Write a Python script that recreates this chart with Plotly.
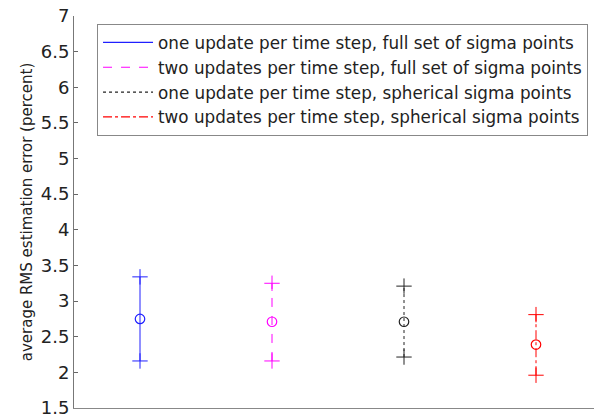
import plotly.graph_objects as go

names = [
    "one update per time step, full set of sigma points",
    "two updates per time step, full set of sigma points",
    "one update per time step, spherical sigma points",
    "two updates per time step, spherical sigma points",
]
xpos = [1, 2, 3, 4]
means = [2.75, 2.71, 2.71, 2.39]
uppers = [3.34, 3.25, 3.21, 2.81]
lowers = [2.16, 2.16, 2.215, 1.96]
colors = ["#2020ff", "#ff00ff", "#222222", "#ff0000"]
dashes = ["solid", "dash", "dot", "dashdot"]

yticks = [1.5, 2, 2.5, 3, 3.5, 4, 4.5, 5, 5.5, 6, 6.5, 7]

fig = go.Figure()
for i in range(4):
    fig.add_trace(go.Scatter(
        x=[xpos[i], xpos[i]], y=[lowers[i], uppers[i]], mode="lines",
        line=dict(color=colors[i], width=1, dash=dashes[i]),
        showlegend=False, hoverinfo="skip"))
    fig.add_trace(go.Scatter(
        x=[xpos[i], xpos[i]], y=[lowers[i], uppers[i]], mode="markers",
        marker=dict(symbol="cross-thin-open", size=11, color=colors[i],
                    line=dict(color=colors[i], width=1)),
        showlegend=False))
    fig.add_trace(go.Scatter(
        x=[xpos[i]], y=[means[i]], mode="markers",
        marker=dict(symbol="circle-open", size=9.5, color=colors[i],
                    line=dict(color=colors[i], width=1.2)),
        showlegend=False))
for i in range(4):
    fig.add_trace(go.Scatter(
        x=[None], y=[None], mode="lines", name=names[i],
        line=dict(color=colors[i], width=1.2, dash=dashes[i]),
        showlegend=True))

# the page body has an 8px margin, so the figure is sized to fit the window
fig.update_layout(
    width=594, height=411,
    margin=dict(l=66, r=0, t=8, b=11),
    paper_bgcolor="white", plot_bgcolor="white",
    font=dict(family="DejaVu Sans, sans-serif", size=16, color="#222222"),
    showlegend=True,
    legend=dict(x=0.0436, y=0.9796, xanchor="left", yanchor="top",
                bordercolor="#888888", borderwidth=1, bgcolor="white",
                font=dict(size=16.8), tracegroupgap=0, itemwidth=50),
    xaxis=dict(range=[0.5, 4.5], showgrid=False, zeroline=False,
               showticklabels=False, ticks="", showline=True,
               linecolor="#888888", linewidth=1, automargin=False),
    yaxis=dict(range=[1.5, 7], tickvals=yticks,
               ticktext=[("%g" % v) for v in yticks],
               showgrid=False, zeroline=False, ticks="inside", ticklen=4,
               tickcolor="#666666", showline=True, linecolor="#777777",
               linewidth=1, tickfont=dict(size=18), automargin=False,
               ticklabeloverflow="allow",
               title=dict(text="average RMS estimation error (percent)",
                          font=dict(size=15), standoff=4)),
)

fig.write_html("out.html")
